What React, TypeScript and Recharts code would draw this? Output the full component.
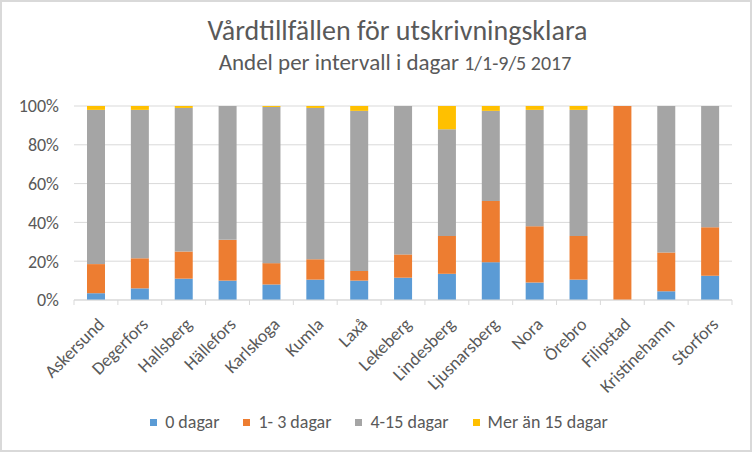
import { BarChart, Bar, XAxis, YAxis, CartesianGrid, Legend } from 'recharts';

const categories = [
  'Askersund', 'Degerfors', 'Hallsberg', 'Hällefors', 'Karlskoga', 'Kumla', 'Laxå', 'Lekeberg',
  'Lindesberg', 'Ljusnarsberg', 'Nora', 'Örebro', 'Filipstad', 'Kristinehamn', 'Storfors',
];
const dagar0 = [3.5, 6, 11, 10, 8, 10.5, 10, 11.5, 13.5, 19.5, 9, 10.5, 0, 4.5, 12.5];
const dagar1to3 = [15, 15.5, 14, 21, 11, 10.5, 5, 12, 19.5, 31.5, 29, 22.5, 100, 20, 25];
const dagar4to15 = [79.5, 76.5, 74, 69, 80.5, 78, 82.5, 76.5, 55, 46.5, 60, 65, 0, 75.5, 62.5];
const dagarOver15 = [2, 2, 1, 0, 0.5, 1, 2.5, 0, 12, 2.5, 2, 2, 0, 0, 0];
const yTicks = [0, 20, 40, 60, 80, 100];

const FONT = "Carlito, Calibri, 'Liberation Sans Narrow', sans-serif";
const TEXT = '#595959';
const GRID = '#d9d9d9';

const series = [
  { key: 'd0', name: '0 dagar', color: '#5b9bd5' },
  { key: 'd1', name: '1- 3 dagar', color: '#ed7d31' },
  { key: 'd4', name: '4-15 dagar', color: '#a5a5a5' },
  { key: 'd15', name: 'Mer än 15 dagar', color: '#ffc000' },
];

const data = categories.map((name, i) => ({
  name,
  d0: dagar0[i],
  d1: dagar1to3[i],
  d4: dagar4to15[i],
  d15: dagarOver15[i],
}));

// category labels at -45deg plus Excel-style tick marks between categories
function CategoryTick(props: any) {
  const { x, y, payload, index } = props;
  const half = payload.offset ?? 0;
  const tx = x + 5;
  const ty = y + 13;
  return (
    <g>
      <line x1={x - half} x2={x - half} y1={y - 8} y2={y - 3} stroke={GRID} />
      {index === categories.length - 1 && (
        <line x1={x + half} x2={x + half} y1={y - 8} y2={y - 3} stroke={GRID} />
      )}
      <text
        x={tx}
        y={ty}
        dy="0.35em"
        textAnchor="end"
        transform={`rotate(-45, ${tx}, ${ty})`}
        fill={TEXT}
        fontSize={18}
        fontFamily={FONT}
      >
        {payload.value}
      </text>
    </g>
  );
}

function LegendContent() {
  return (
    <div
      style={{
        display: 'flex',
        justifyContent: 'center',
        gap: 24,
        paddingLeft: 6,
        fontFamily: FONT,
        fontSize: 18,
        lineHeight: '18px',
        color: TEXT,
      }}
    >
      {series.map((s) => (
        <div key={s.key} style={{ display: 'flex', alignItems: 'center' }}>
          <span style={{ width: 7, height: 7, background: s.color, marginRight: 8, display: 'inline-block' }} />
          <span>{s.name}</span>
        </div>
      ))}
    </div>
  );
}

export default function App() {
  return (
    <div
      style={{
        position: 'absolute',
        left: 0,
        top: 0,
        width: 752,
        height: 452,
        boxSizing: 'border-box',
        border: '2px solid #d9d9d9',
        background: '#fff',
        fontFamily: FONT,
      }}
    >
      <svg width={748} height={90} style={{ position: 'absolute', left: 0, top: 0 }}>
        <text x={395.5} y={38} textAnchor="middle" fontSize={28} fill={TEXT} fontFamily={FONT}>
          Vårdtillfällen för utskrivningsklara
        </text>
        <text x={393} y={68} textAnchor="middle" fontSize={23} fill={TEXT} fontFamily={FONT}>
          Andel per intervall i dagar <tspan fontSize={20}>1/1-9/5 2017</tspan>
        </text>
      </svg>
      <BarChart width={748} height={448} data={data} margin={{ top: 104, right: 18, bottom: 0, left: 0 }} barSize={18}>
        <CartesianGrid vertical={false} stroke={GRID} />
        <XAxis
          dataKey="name"
          interval={0}
          height={132}
          axisLine={{ stroke: GRID }}
          tickLine={false}
          tick={<CategoryTick />}
        />
        <YAxis
          domain={[0, 100]}
          ticks={yTicks}
          width={72}
          axisLine={false}
          tickLine={false}
          tickSize={0}
          tickMargin={15}
          tickFormatter={(v) => `${v}%`}
          tick={{ fill: TEXT, fontSize: 18, fontFamily: FONT }}
        />
        <Legend content={<LegendContent />} wrapperStyle={{ top: 411, left: 0, width: 748, height: 18 }} />
        {series.map((s) => (
          <Bar key={s.key} dataKey={s.key} name={s.name} stackId="a" fill={s.color} isAnimationActive={false} />
        ))}
      </BarChart>
    </div>
  );
}
